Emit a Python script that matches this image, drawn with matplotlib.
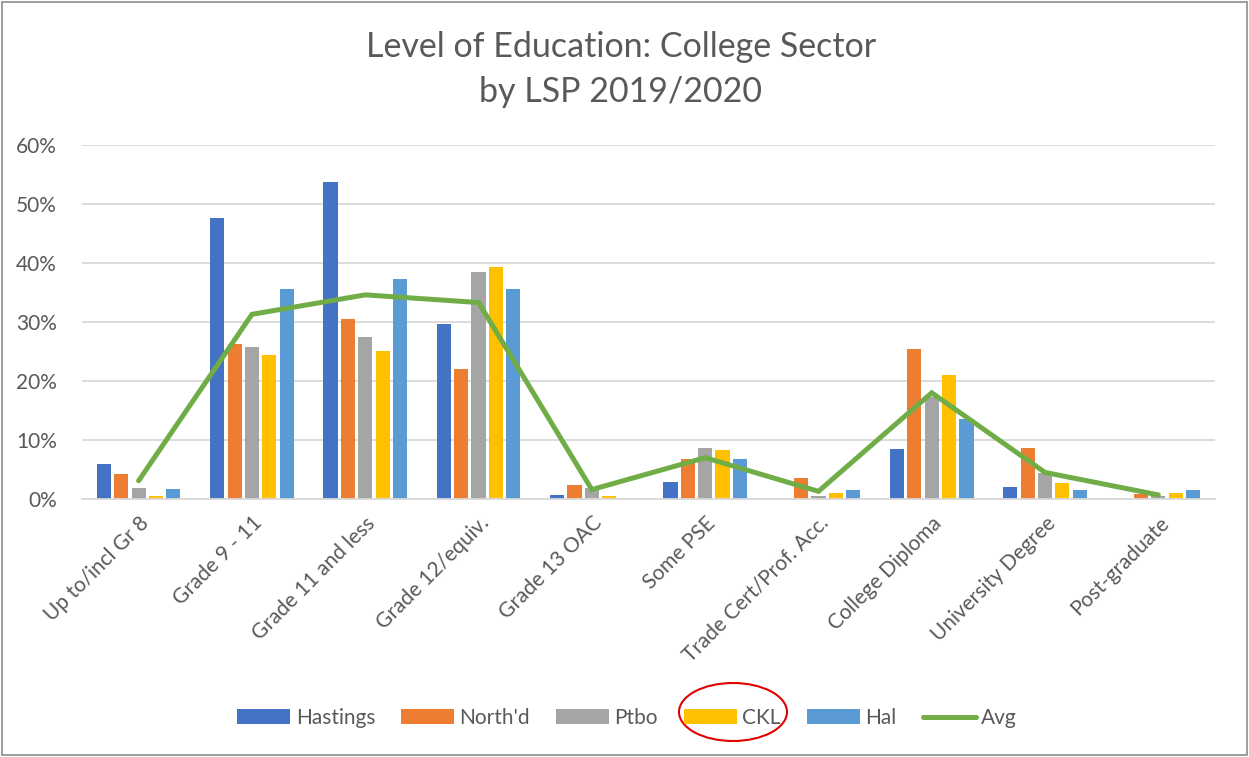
import matplotlib
matplotlib.use("Agg")
import matplotlib.pyplot as plt
import numpy as np
from matplotlib.patches import Ellipse, Rectangle
from matplotlib.ticker import PercentFormatter

categories = ["Up to/incl Gr 8", "Grade 9 - 11", "Grade 11 and less", "Grade 12/equiv.",
              "Grade 13 OAC", "Some PSE", "Trade Cert/Prof. Acc.", "College Diploma",
              "University Degree", "Post-graduate"]
hastings = [6.0, 47.6, 53.7, 29.7, 0.7, 2.8, 0.0, 8.5, 2.0, 0.0]
northd   = [4.3, 26.3, 30.5, 22.0, 2.3, 6.7, 3.5, 25.5, 8.6, 0.9]
ptbo     = [1.8, 25.7, 27.5, 38.4, 1.8, 8.6, 0.5, 17.3, 4.4, 0.5]
ckl      = [0.5, 24.4, 25.1, 39.4, 0.5, 8.3, 1.1, 21.1, 2.7, 1.1]
hal      = [1.7, 35.6, 37.3, 35.6, 0.0, 6.8, 1.6, 13.5, 1.6, 1.6]
avg      = [3.1, 31.3, 34.6, 33.3, 1.6, 7.0, 1.3, 18.0, 4.5, 0.7]
series_names = ["Hastings", "North'd", "Ptbo", "CKL", "Hal"]
colors = ["#4472C4", "#ED7D31", "#A5A5A5", "#FFC000", "#5B9BD5"]
avg_color = "#70AD47"

plt.rcParams['font.family'] = ['Lato', 'DejaVu Sans']

W, H = 1249, 757
fig = plt.figure(figsize=(W/100, H/100), dpi=100)
ax = fig.add_axes([82/W, 1-499/H, (1215-82)/W, (499-145)/H])

x = np.arange(len(categories))
step = 0.153
bw = 0.125
handles = []
for i, (vals, name, c) in enumerate(zip([hastings, northd, ptbo, ckl, hal], series_names, colors)):
    h = ax.bar(x + (i-2)*step, vals, width=bw, color=c, label=name, zorder=2)
    handles.append(h)
ln, = ax.plot(x, avg, color=avg_color, lw=3.6, label="Avg", zorder=3,
              solid_capstyle='round', solid_joinstyle='miter')
handles.append(ln)

ax.set_xlim(-0.5, len(categories)-0.5)
ax.set_ylim(0, 60)
ax.set_yticks(np.arange(0, 61, 10))
ax.yaxis.set_major_formatter(PercentFormatter(decimals=0))
ax.grid(axis='y', color='#d9d9d9', lw=1.3, zorder=0)
ax.set_axisbelow(True)
for s in ['top', 'right', 'left']:
    ax.spines[s].set_visible(False)
ax.spines['bottom'].set_color('#d9d9d9')
ax.spines['bottom'].set_linewidth(1.3)
ax.tick_params(axis='both', length=0, labelsize=15, colors='#595959')
ax.tick_params(axis='y', pad=18)
ax.set_xticks(x)
ax.set_xticklabels(categories, rotation=45, ha='right', rotation_mode='anchor')
ax.tick_params(axis='x', pad=10)

fig.text(0.497, 1-47/H, "Level of Education: College Sector", ha='center', va='center',
         fontsize=24.5, color='#595959')
fig.text(0.497, 1-92/H, "by LSP 2019/2020", ha='center', va='center',
         fontsize=24.5, color='#595959')

leg = fig.legend(handles, [h.get_label() for h in handles], loc='center',
                 bbox_to_anchor=(0.502, 1-718/H), ncol=6, frameon=False,
                 fontsize=15, handlelength=2.55, handleheight=0.7, columnspacing=1.25,
                 handletextpad=0.25)
for t in leg.get_texts():
    t.set_color('#595959')

fig.patches.append(Ellipse((733/W, 1-712/H), 108/W, 58/H, transform=fig.transFigure,
                           fill=False, edgecolor='#E00000', lw=1.5))
fig.patches.append(Rectangle((2/W, 2/H), 1-4/W, 1-4/H, transform=fig.transFigure,
                             fill=False, edgecolor='#8c8c8c', lw=1.2))

fig.savefig("out.png", dpi=100)
